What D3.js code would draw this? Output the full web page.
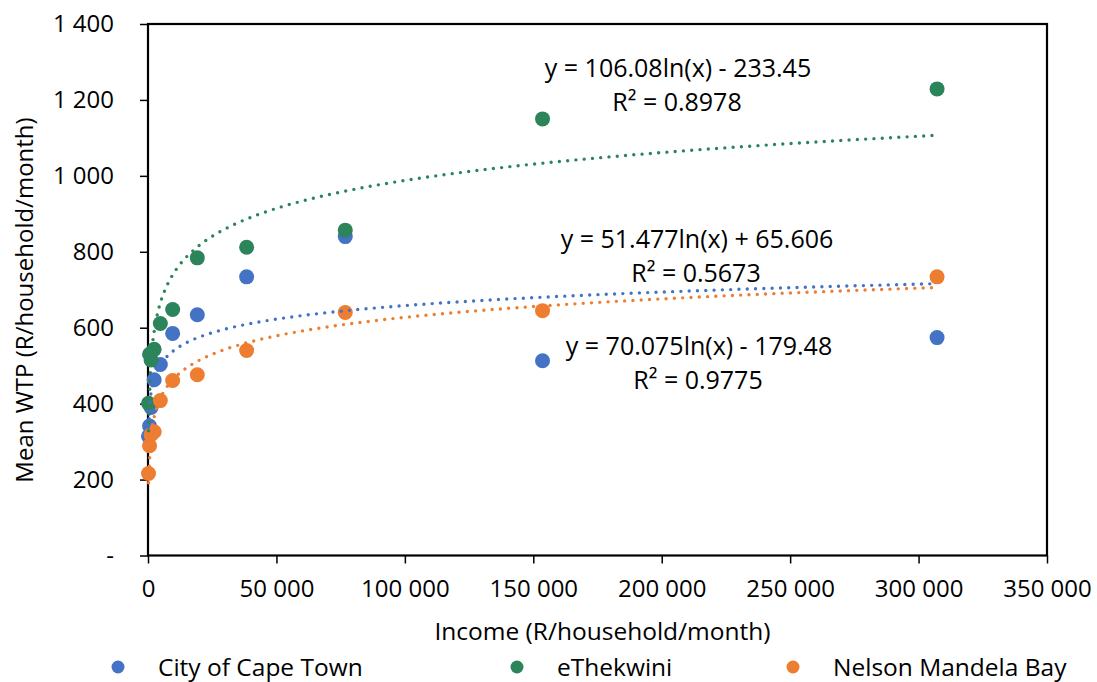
<!DOCTYPE html>
<html>
<head>
<meta charset="utf-8">
<script src="https://d3js.org/d3.v7.min.js"></script>
<style>
  body { margin: 0; background: #fff; }
  text { font-family: "Open Sans", "Noto Sans", sans-serif; fill: #000; }
  .axis text { font-size: 24px; }
  .axis .domain { display: none; }
  .axis .tick line { stroke: #000; stroke-width: 1.5; }
</style>
</head>
<body>
<script>
// income bands (R/household/month), midpoints
var income = [200, 600, 1200, 2400, 4800, 9600, 19200, 38400, 76800, 153600, 307200];

var seriesNames = ["City of Cape Town", "eThekwini", "Nelson Mandela Bay"];
var seriesColors = ["#4472C4", "#2C845A", "#ED7D31"];

// mean WTP
var capeTown  = [314, 341, 390, 463, 503, 585, 634, 734, 840, 513, 574];
var eThekwini = [401, 530, 515, 543, 611, 648, 784, 812, 857, 1150, 1229];
var nelsonMB  = [216, 289, 318, 326, 408, 461, 476, 540, 640, 645, 734];

// log trendlines y = a ln(x) + b
var trendA = [51.477, 106.08, 70.075];
var trendB = [65.606, -233.45, -179.48];
var trendEq = ["y = 51.477ln(x) + 65.606", "y = 106.08ln(x) - 233.45", "y = 70.075ln(x) - 179.48"];
var trendR2 = ["R² = 0.5673", "R² = 0.8978", "R² = 0.9775"];
var labelPos = [[697, 239], [678, 68], [699, 346]];

var xTicks = [0, 50000, 100000, 150000, 200000, 250000, 300000, 350000];
var yTicks = [0, 200, 400, 600, 800, 1000, 1200, 1400];

var w = 1097, h = 682;
var pLeft = 148, pRight = 1047, pTop = 24, pBottom = 555.5;

var svg = d3.select("body").append("svg").attr("width", w).attr("height", h);

var x = d3.scaleLinear().domain([0, 350000]).range([pLeft, pRight]);
var y = d3.scaleLinear().domain([0, 1400]).range([pBottom, pTop]);

var spaced = function(d) { return d3.format(",")(d).replace(/,/g, " "); };

// axes
svg.append("g").attr("class", "axis")
  .attr("transform", "translate(0," + pBottom + ")")
  .call(d3.axisBottom(x).tickValues(xTicks).tickSize(8).tickPadding(16).tickFormat(spaced));

svg.append("g").attr("class", "axis")
  .attr("transform", "translate(" + pLeft + ",0)")
  .call(d3.axisLeft(y).tickValues(yTicks).tickSize(8).tickPadding(26)
    .tickFormat(function(d) { return d === 0 ? "-" : spaced(d); }));

// plot frame
svg.append("rect")
  .attr("x", pLeft).attr("y", pTop)
  .attr("width", pRight - pLeft).attr("height", pBottom - pTop)
  .attr("fill", "none").attr("stroke", "#000").attr("stroke-width", 2.2);

// axis titles
svg.append("text")
  .attr("x", (pLeft + pRight) / 2 + 5).attr("y", 640)
  .attr("text-anchor", "middle").style("font-size", "24.5px")
  .text("Income (R/household/month)");

svg.append("text")
  .attr("transform", "translate(33,300) rotate(-90)")
  .attr("text-anchor", "middle").style("font-size", "24px")
  .text("Mean WTP (R/household/month)");

var allSeries = [capeTown, eThekwini, nelsonMB];

// markers
allSeries.forEach(function(vals, i) {
  svg.append("g").selectAll("circle")
    .data(vals)
    .enter().append("circle")
    .attr("cx", function(d, j) { return x(income[j]); })
    .attr("cy", function(d) { return y(d); })
    .attr("r", 7.5)
    .attr("fill", seriesColors[i]);
});

// trendlines
var xs = d3.scaleLog().domain([income[0], income[income.length - 1]]).ticks(400);
xs = [income[0]].concat(xs.filter(function(v) { return v > income[0] && v < income[income.length - 1]; }), [income[income.length - 1]]);
var line = d3.line().x(function(d) { return x(d[0]); }).y(function(d) { return y(d[1]); });

allSeries.forEach(function(vals, i) {
  var pts = xs.map(function(v) { return [v, trendA[i] * Math.log(v) + trendB[i]]; });
  svg.append("path")
    .datum(pts)
    .attr("d", line)
    .attr("fill", "none")
    .attr("stroke", seriesColors[i])
    .attr("stroke-width", 3.4)
    .attr("stroke-linecap", "round")
    .attr("stroke-dasharray", "0 8.3");

  svg.append("text")
    .attr("x", labelPos[i][0]).attr("y", labelPos[i][1] + 9)
    .attr("text-anchor", "middle").style("font-size", "25px")
    .text(trendEq[i]);
  svg.append("text")
    .attr("x", labelPos[i][0] - 1).attr("y", labelPos[i][1] + 43)
    .attr("text-anchor", "middle").style("font-size", "25px")
    .text(trendR2[i]);
});

// legend
var legX = [118, 517, 793];
seriesNames.forEach(function(name, i) {
  svg.append("circle").attr("cx", legX[i]).attr("cy", 667).attr("r", 6.5).attr("fill", seriesColors[i]);
  svg.append("text").attr("x", legX[i] + 40).attr("y", 676).style("font-size", "24.5px").text(name);
});
</script>
</body>
</html>
